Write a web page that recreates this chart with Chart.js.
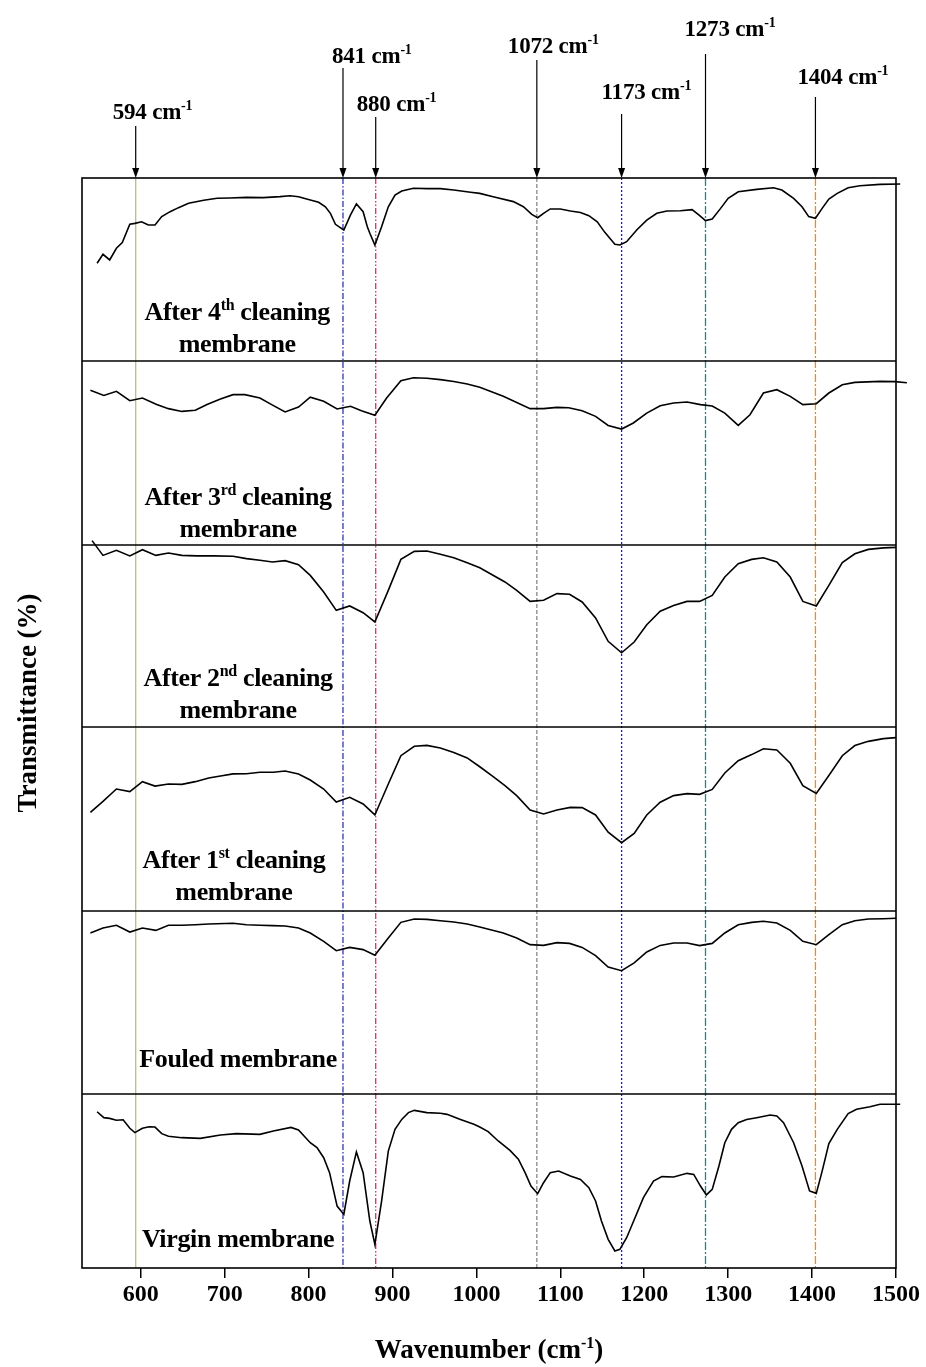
<!DOCTYPE html>
<html><head><meta charset="utf-8">
<script src="https://cdn.jsdelivr.net/npm/chart.js@4/dist/chart.umd.min.js"></script>
<style>html,body{margin:0;padding:0;background:#fff}#wrap{width:926px;height:1367px}</style>
</head><body><div id="wrap"><canvas id="c" width="926" height="1367"></canvas></div>
<script>
// ---------- data ----------
const X_TICKS = [600,700,800,900,1000,1100,1200,1300,1400,1500];
const PEAKS = [594, 841, 880, 1072, 1173, 1273, 1404];

const virgin = [[548,89.8],[556,86.4],[563,86.0],[571,84.9],[579,85.2],[587,80.3],[593,77.8],[602,80.3],[610,81.2],[617,81.0],[625,77.2],[633,75.7],[649,74.9],[671,74.5],[695,76.4],[714,77.2],[742,76.8],[758,78.7],[779,80.8],[788,79.3],[802,72.0],[810,69.2],[818,63.4],[825,54.8],[834,35.6],[842,30.8],[849,50.0],[857,66.7],[865,54.8],[873,27.0],[879,13.6],[887,38.5],[895,67.2],[903,79.7],[911,85.4],[919,89.3],[926,90.6],[941,89.3],[957,88.9],[965,88.3],[981,85.4],[997,82.6],[1004,81.0],[1014,78.4],[1026,73.0],[1040,67.6],[1050,62.5],[1058,54.8],[1065,47.1],[1073,42.7],[1080,49.0],[1088,54.8],[1098,55.7],[1112,52.9],[1124,50.9],[1134,46.2],[1142,38.5],[1149,27.0],[1157,16.5],[1165,9.8],[1171,10.7],[1179,17.4],[1189,28.9],[1199,40.4],[1211,50.0],[1221,52.5],[1235,52.3],[1251,54.4],[1259,53.8],[1267,47.1],[1274,42.0],[1281,45.2],[1289,58.6],[1296,72.0],[1304,79.7],[1312,83.5],[1322,85.4],[1334,86.4],[1350,87.9],[1358,87.4],[1366,83.5],[1378,72.0],[1388,58.6],[1397,44.3],[1405,42.9],[1412,55.7],[1420,71.5],[1430,79.7],[1443,88.7],[1453,91.2],[1469,92.7],[1481,94.1],[1505,94.1]];

const fouled = [[540,88.0],[555,90.7],[571,92.2],[587,88.5],[602,90.7],[618,89.4],[633,92.2],[649,92.2],[665,92.5],[681,92.9],[710,93.3],[726,92.5],[742,92.2],[757,92.0],[772,91.8],[788,90.7],[802,88.0],[818,83.4],[833,78.3],[849,80.1],[865,78.9],[879,75.8],[895,85.2],[910,93.8],[926,95.6],[941,95.4],[957,94.7],[973,94.0],[989,92.9],[1004,91.3],[1032,88.0],[1048,85.2],[1064,81.6],[1080,81.2],[1096,82.7],[1111,82.3],[1126,80.1],[1142,75.6],[1157,69.4],[1173,67.4],[1188,71.6],[1203,77.6],[1219,81.2],[1235,82.5],[1251,82.5],[1266,81.1],[1281,82.3],[1296,88.0],[1312,92.5],[1328,93.8],[1342,94.4],[1358,93.4],[1374,89.4],[1389,83.4],[1405,81.6],[1420,87.1],[1436,92.5],[1451,94.7],[1467,95.6],[1485,95.8],[1500,96.0],[1513,96.0]];

const clean1 = [[540,53.6],[555,59.6],[571,66.3],[587,64.9],[602,70.3],[617,67.9],[633,69.0],[649,68.8],[665,70.3],[681,72.3],[695,73.4],[710,74.5],[726,74.6],[742,75.4],[758,75.4],[772,76.1],[788,74.5],[802,71.2],[818,66.3],[833,59.2],[849,61.8],[865,58.2],[879,52.2],[895,69.0],[910,84.4],[926,89.5],[941,90.0],[957,88.6],[973,86.2],[989,83.2],[1004,78.4],[1020,73.0],[1034,68.1],[1048,62.7],[1064,54.9],[1080,52.7],[1096,54.9],[1112,56.3],[1126,56.2],[1142,52.2],[1157,42.8],[1173,37.1],[1188,42.2],[1203,52.2],[1219,59.1],[1235,62.7],[1251,63.8],[1266,63.4],[1281,66.1],[1296,75.0],[1312,81.7],[1328,85.0],[1342,88.2],[1358,87.5],[1374,80.3],[1389,68.1],[1405,63.9],[1420,73.6],[1436,84.4],[1451,89.9],[1467,92.2],[1485,93.7],[1500,94.2],[1513,94.4]];

const clean2 = [[542,102.4],[555,94.3],[571,97.1],[587,94.0],[602,97.4],[618,94.3],[633,95.6],[649,94.3],[667,94.0],[687,94.0],[710,93.8],[726,92.5],[742,91.6],[757,90.7],[772,91.4],[788,89.2],[802,83.3],[818,74.2],[833,64.1],[849,66.5],[865,62.8],[879,57.7],[895,75.1],[910,92.1],[926,96.5],[941,96.7],[957,94.9],[973,93.0],[989,90.3],[1004,87.5],[1034,79.7],[1048,75.1],[1064,69.0],[1080,69.6],[1096,73.3],[1111,72.9],[1126,68.7],[1142,59.9],[1157,47.1],[1173,40.8],[1188,46.7],[1203,56.2],[1219,63.6],[1235,66.8],[1251,69.0],[1266,69.0],[1281,72.3],[1296,82.4],[1312,89.7],[1328,92.1],[1342,93.0],[1358,90.7],[1374,82.4],[1389,69.0],[1405,66.5],[1420,77.8],[1436,90.3],[1451,95.2],[1467,97.6],[1485,98.4],[1500,98.7],[1513,98.5]];

const clean3 = [[540,84.1],[556,81.3],[571,83.5],[587,78.4],[602,79.9],[619,76.4],[633,74.1],[649,72.6],[665,73.2],[679,76.4],[695,79.3],[710,81.7],[724,81.7],[742,79.9],[756,76.3],[772,72.3],[788,75.0],[802,80.3],[818,78.1],[834,73.9],[850,75.4],[863,73.0],[879,70.5],[893,79.9],[910,89.3],[925,90.9],[941,90.6],[957,89.9],[973,88.9],[989,87.5],[1004,85.7],[1032,80.8],[1064,74.1],[1080,74.1],[1096,74.8],[1110,74.6],[1126,73.0],[1142,69.9],[1157,65.0],[1173,63.0],[1187,66.3],[1203,71.7],[1219,75.7],[1235,77.2],[1251,77.7],[1267,76.3],[1281,75.5],[1296,71.7],[1312,65.0],[1326,70.8],[1342,82.6],[1358,84.4],[1374,80.8],[1389,76.3],[1405,76.8],[1420,82.6],[1436,87.1],[1451,88.4],[1481,88.9],[1499,88.8],[1513,88.2]];

const clean4 = [[548,53.4],[555,58.3],[563,55.2],[571,61.6],[578,64.7],[587,74.7],[593,75.2],[601,76.1],[609,74.3],[617,74.3],[625,78.9],[635,81.6],[645,83.8],[657,86.2],[675,87.8],[691,88.9],[706,89.1],[726,89.4],[746,89.3],[766,89.8],[778,90.3],[788,89.8],[802,88.0],[812,86.7],[820,84.3],[826,80.7],[832,74.7],[836,73.4],[842,71.6],[850,79.8],[857,85.8],[865,81.6],[870,73.4],[873,69.8],[879,63.4],[887,73.4],[895,84.3],[903,90.7],[911,92.9],[925,94.4],[941,94.2],[957,94.2],[973,93.4],[993,92.2],[1004,91.6],[1020,89.8],[1044,87.1],[1056,84.3],[1066,80.1],[1073,78.3],[1080,80.7],[1088,83.1],[1100,83.1],[1112,82.0],[1124,81.2],[1134,79.4],[1144,76.1],[1153,70.3],[1165,63.8],[1171,63.4],[1179,65.2],[1191,71.6],[1203,77.0],[1215,80.7],[1227,82.0],[1243,82.1],[1257,82.7],[1265,79.8],[1273,76.7],[1281,77.6],[1291,83.4],[1300,88.9],[1312,92.5],[1334,93.8],[1354,94.7],[1364,93.4],[1378,88.9],[1388,84.3],[1396,78.9],[1404,78.0],[1412,83.4],[1420,88.5],[1430,91.6],[1443,94.7],[1457,95.8],[1481,96.5],[1505,96.7]];

// bottom -> top
const SERIES = [virgin, fouled, clean1, clean2, clean3, clean4];
const SERIES_NAMES = ['Virgin membrane','Fouled membrane','After 1st cleaning membrane','After 2nd cleaning membrane','After 3rd cleaning membrane','After 4th cleaning membrane'];

// ---------- styles / layout ----------
const PANEL_WEIGHTS = [174,183,184,182,184,183];
const SERIF = '"Liberation Serif","Times New Roman",serif';
const PEAK_STYLE = [
  {c:'#bebe78', d:[]},
  {c:'#3434b0', d:[6,2,1.5,2]},
  {c:'#e02a68', d:[6,2,1.5,2,1.5,2]},
  {c:'#888888', d:[4,2]},
  {c:'#1010ff', d:[2,2]},
  {c:'#138c8c', d:[8,2,2,2]},
  {c:'#ff8800', d:[8,2,2,2]}
];
// label offsets: text left relative to arrow, text centre above frame, arrow start above frame
const PEAK_LABEL = [
  {dx:-23, ty:67, ay:52},
  {dx:-11, ty:123, ay:110},
  {dx:-19, ty:75, ay:61},
  {dx:-29, ty:133, ay:118},
  {dx:-20, ty:87, ay:64},
  {dx:-21, ty:150, ay:124},
  {dx:-18, ty:102, ay:81}
];
// panel label lines: [segments], y (panel %)
const PANEL_LABELS = [
  [{y:17, segs:[['Virgin membrane',0]]}],
  [{y:19.5, segs:[['Fouled membrane',0]]}],
  [{y:28.5, segs:[['After 1',0],['st',1],[' cleaning',0]]},{y:11, segs:[['membrane',0]]}],
  [{y:27.5, segs:[['After 2',0],['nd',1],[' cleaning',0]]},{y:10, segs:[['membrane',0]]}],
  [{y:26.5, segs:[['After 3',0],['rd',1],[' cleaning',0]]},{y:9.5, segs:[['membrane',0]]}],
  [{y:27.5, segs:[['After 4',0],['th',1],[' cleaning',0]]},{y:10, segs:[['membrane',0]]}]
];
const LABEL_X = [716, 716, 711, 716, 716, 715];

function drawRich(ctx, segs, x, y, size, align, spacing) {
  const big = 'bold ' + size + 'px ' + SERIF;
  const small = 'bold ' + Math.round(size*0.6) + 'px ' + SERIF;
  ctx.letterSpacing = (spacing || 0) + 'px';
  let w = 0;
  segs.forEach(([t,s]) => { ctx.font = s ? small : big; w += ctx.measureText(t).width; });
  let cx = align === 'center' ? x - w/2 : x;
  ctx.textAlign = 'left';
  ctx.textBaseline = 'alphabetic';
  segs.forEach(([t,s]) => {
    ctx.font = s ? small : big;
    ctx.fillText(t, cx, s ? y - size*0.38 : y);
    cx += ctx.measureText(t).width;
  });
  ctx.letterSpacing = '0px';
  return w;
}

const deco = {
  id: 'deco',
  beforeDatasetsDraw(chart) {
    const {ctx, chartArea: a, scales} = chart;
    ctx.save();
    PEAKS.forEach((p, i) => {
      const x = scales.x.getPixelForValue(p);
      ctx.strokeStyle = PEAK_STYLE[i].c;
      ctx.setLineDash(PEAK_STYLE[i].d);
      ctx.lineWidth = 1.3;
      ctx.beginPath(); ctx.moveTo(x, a.top); ctx.lineTo(x, a.bottom); ctx.stroke();
    });
    ctx.restore();
  },
  afterDatasetsDraw(chart) {
    const {ctx, chartArea: a, scales} = chart;
    ctx.save();
    ctx.strokeStyle = '#000'; ctx.lineWidth = 1.6; ctx.setLineDash([]);
    ctx.strokeRect(a.left, a.top, a.right - a.left, a.bottom - a.top);
    for (let i = 0; i < SERIES.length - 1; i++) {
      const yy = scales['y' + i].top;
      ctx.beginPath(); ctx.moveTo(a.left, yy); ctx.lineTo(a.right, yy); ctx.stroke();
    }
    ctx.fillStyle = '#000';
    // panel labels
    PANEL_LABELS.forEach((lines, i) => {
      const sc = scales['y' + i];
      lines.forEach(l => {
        drawRich(ctx, l.segs, scales.x.getPixelForValue(LABEL_X[i]), sc.getPixelForValue(l.y) + 9, 26, 'center', -0.35);
      });
    });
    // peak annotations
    PEAKS.forEach((p, i) => {
      const x = scales.x.getPixelForValue(p);
      const L = PEAK_LABEL[i];
      drawRich(ctx, [[p + ' cm', 0], ['-1', 1]], x + L.dx, a.top - L.ty + 8, 23, 'left', -0.2);
      ctx.lineWidth = 1.2;
      ctx.beginPath(); ctx.moveTo(x, a.top - L.ay); ctx.lineTo(x, a.top - 8); ctx.stroke();
      ctx.beginPath(); ctx.moveTo(x, a.top); ctx.lineTo(x - 3.5, a.top - 10); ctx.lineTo(x + 3.5, a.top - 10); ctx.closePath(); ctx.fill();
    });
    // axis titles
    ctx.save();
    ctx.translate(36, 703);
    ctx.rotate(-Math.PI / 2);
    ctx.font = 'bold 27px ' + SERIF; ctx.textAlign = 'center'; ctx.textBaseline = 'alphabetic';
    ctx.fillText('Transmittance (%)', 0, 0);
    ctx.restore();
    const segs = [['Wavenumber (cm',0],['-1',1],[')',0]];
    drawRich(ctx, segs, (a.left + a.right) / 2, 1358, 27, 'center', 0);
    ctx.restore();
  }
};

const yScales = {};
SERIES.forEach((s, i) => {
  yScales['y' + i] = {
    type: 'linear', position: 'left', stack: 'panels', stackWeight: PANEL_WEIGHTS[i],
    min: 0, max: 100,
    ticks: {display: false}, grid: {display: false}, border: {display: false},
    afterFit: sc => { sc.width = 0; }
  };
});

new Chart(document.getElementById('c'), {
  type: 'line',
  data: {
    datasets: SERIES.map((s, i) => ({
      label: SERIES_NAMES[i],
      data: s.map(([x, y]) => ({x, y})),
      yAxisID: 'y' + i,
      borderColor: '#000', borderWidth: 1.6,
      pointRadius: 0, tension: 0, fill: false, clip: false
    }))
  },
  options: {
    responsive: false, animation: false, devicePixelRatio: 1,
    layout: {padding: {left: 82, right: 30, top: 178, bottom: 39}},
    plugins: {legend: {display: false}, tooltip: {enabled: false}},
    scales: Object.assign({
      x: {
        type: 'linear', min: 530, max: 1500,
        afterBuildTicks: sc => { sc.ticks = X_TICKS.map(v => ({value: v})); },
        ticks: {color: '#000', font: {family: SERIF, size: 24, weight: 'bold'}, padding: 2, maxRotation: 0, autoSkip: false,
                callback: v => String(v)},
        grid: {drawOnChartArea: false, drawTicks: true, tickLength: 10, color: '#000', lineWidth: 1.5},
        border: {display: false},
        afterFit: sc => { sc.height = 60; }
      }
    }, yScales)
  },
  plugins: [deco]
});
</script>
</body></html>
